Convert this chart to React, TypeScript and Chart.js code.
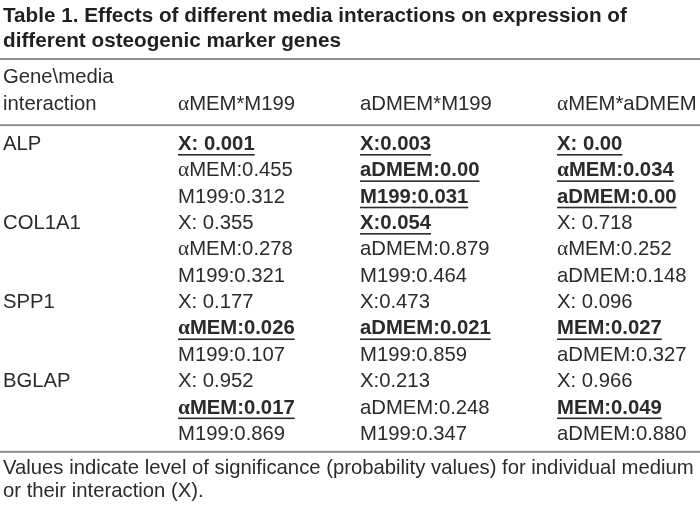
import React, { useEffect, useRef } from "react";
import { Chart, registerables } from "chart.js";

Chart.register(...registerables);

// ---------- data ----------
const titleLines = [
  "Table 1. Effects of different media interactions on expression of",
  "different osteogenic marker genes",
];
const headerFirst = ["Gene\\media", "interaction"];
const interactions = ["αMEM*M199", "aDMEM*M199", "αMEM*aDMEM"];
const genes = ["ALP", "COL1A1", "SPP1", "BGLAP"];

const valuesMemM199 = [
  "X: 0.001", "αMEM:0.455", "M199:0.312",
  "X: 0.355", "αMEM:0.278", "M199:0.321",
  "X: 0.177", "αMEM:0.026", "M199:0.107",
  "X: 0.952", "αMEM:0.017", "M199:0.869",
];
const valuesDmemM199 = [
  "X:0.003", "aDMEM:0.00", "M199:0.031",
  "X:0.054", "aDMEM:0.879", "M199:0.464",
  "X:0.473", "aDMEM:0.021", "M199:0.859",
  "X:0.213", "aDMEM:0.248", "M199:0.347",
];
const valuesMemDmem = [
  "X: 0.00", "αMEM:0.034", "aDMEM:0.00",
  "X: 0.718", "αMEM:0.252", "aDMEM:0.148",
  "X: 0.096", "MEM:0.027", "aDMEM:0.327",
  "X: 0.966", "MEM:0.049", "aDMEM:0.880",
];
const significantMemM199 = [1, 0, 0, 0, 0, 0, 0, 1, 0, 0, 1, 0];
const significantDmemM199 = [1, 1, 1, 1, 0, 0, 0, 1, 0, 0, 0, 0];
const significantMemDmem = [1, 1, 1, 0, 0, 0, 0, 1, 0, 0, 1, 0];

const footnoteLines = [
  "Values indicate level of significance (probability values) for individual medium",
  "or their interaction (X).",
];

// ---------- layout / style ----------
const W = 700;
const H = 508;
const COL_X = [3, 178, 360, 557];
const LINES_PER_GENE = 3;
const FIRST_BASELINE = 150;
const LINE_STEP = 26.35;
const FONT_SIZE = 20.3;
const TITLE_SIZE = 20.7;
const TEXT_COLOR = "#2b2b2b";
const TITLE_COLOR = "#231f20";
const RULE_COLOR = "#8f8f8f";
const SANS = '"Liberation Sans", Arial, sans-serif';
const SERIF = '"Liberation Serif", "Times New Roman", serif';

function drawRich(ctx: CanvasRenderingContext2D, text: string, x: number, y: number, bold: boolean) {
  let cx = x;
  const parts = text.split(/(α)/).filter((p) => p.length > 0);
  for (const p of parts) {
    const fam = p === "α" ? SERIF : SANS;
    const sz = p === "α" ? FONT_SIZE + 1 : FONT_SIZE;
    ctx.font = `${bold ? "bold " : ""}${sz}px ${fam}`;
    ctx.fillText(p, cx, y);
    cx += ctx.measureText(p).width;
  }
  if (bold) {
    ctx.fillRect(x, y + 4, cx - x, 1.6);
  }
  return cx - x;
}

const tablePlugin = {
  id: "tableText",
  afterDatasetsDraw(chart: any) {
    const ctx: CanvasRenderingContext2D = chart.ctx;
    const ys = chart.scales.y;
    ctx.save();
    ctx.textBaseline = "alphabetic";
    ctx.textAlign = "left";

    // title
    ctx.fillStyle = TITLE_COLOR;
    ctx.font = `bold ${TITLE_SIZE}px ${SANS}`;
    titleLines.forEach((t, i) => ctx.fillText(t, 3, 22 + i * 25));

    // rules
    ctx.fillStyle = RULE_COLOR;
    const ruleTop = 58;
    const ruleMid = ys.getPixelForValue(-1) + 0.5;
    const ruleBot = ys.getPixelForValue(genes.length * LINES_PER_GENE - 1) + 11;
    [ruleTop, ruleMid, ruleBot].forEach((ry) => ctx.fillRect(0, ry, W, 2));

    // header
    ctx.fillStyle = TEXT_COLOR;
    const hy1 = ys.getPixelForValue(-2) - 14;
    const hy2 = ys.getPixelForValue(-2) + 13;
    drawRich(ctx, headerFirst[0], COL_X[0], hy1, false);
    drawRich(ctx, headerFirst[1], COL_X[0], hy2, false);
    interactions.forEach((t, i) => drawRich(ctx, t, COL_X[i + 1], hy2, false));

    // cells drawn at the dataset point positions
    chart.data.datasets.forEach((ds: any, di: number) => {
      const meta = chart.getDatasetMeta(di);
      meta.data.forEach((el: any, pi: number) => {
        const d = ds.data[pi];
        ctx.fillStyle = TEXT_COLOR;
        drawRich(ctx, d.label, el.x, el.y, !!d.bold);
      });
    });

    // footnote
    ctx.fillStyle = TEXT_COLOR;
    ctx.font = `${FONT_SIZE}px ${SANS}`;
    footnoteLines.forEach((t, i) => ctx.fillText(t, 3, ruleBot + 23 + i * 23));
    ctx.restore();
  },
};

export default function App() {
  const ref = useRef<HTMLCanvasElement | null>(null);
  useEffect(() => {
    if (!ref.current) return;
    const geneData = genes.map((g, i) => ({ x: COL_X[0], y: i * LINES_PER_GENE, label: g, bold: false }));
    const mk = (vals: string[], sig: number[], col: number) =>
      vals.map((v, i) => ({ x: COL_X[col], y: i, label: v, bold: sig[i] === 1 }));
    const unit = LINE_STEP;
    const yMin = -FIRST_BASELINE / unit;
    const yMax = yMin + H / unit;
    const chart = new Chart(ref.current, {
      type: "scatter",
      data: {
        datasets: [
          { label: "Gene", data: geneData as any, pointRadius: 0 },
          { label: interactions[0], data: mk(valuesMemM199, significantMemM199, 1) as any, pointRadius: 0 },
          { label: interactions[1], data: mk(valuesDmemM199, significantDmemM199, 2) as any, pointRadius: 0 },
          { label: interactions[2], data: mk(valuesMemDmem, significantMemDmem, 3) as any, pointRadius: 0 },
        ],
      },
      options: {
        animation: false,
        responsive: false,
        maintainAspectRatio: false,
        layout: { padding: 0 },
        plugins: { legend: { display: false }, tooltip: { enabled: false }, title: { display: false } },
        events: [],
        scales: {
          x: { type: "linear", display: false, min: 0, max: W, offset: false },
          y: { type: "linear", display: false, min: yMin, max: yMax, reverse: true, offset: false },
        },
      },
      plugins: [tablePlugin],
    });
    return () => chart.destroy();
  }, []);
  return (
    <div style={{ position: "absolute", left: 0, top: 0, width: W, height: H, background: "#fff" }}>
      <canvas ref={ref} width={W} height={H} style={{ width: W, height: H, display: "block" }} />
    </div>
  );
}
